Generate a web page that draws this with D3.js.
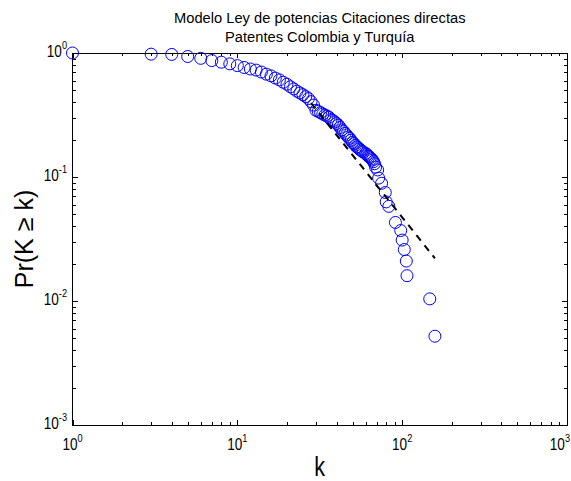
<!DOCTYPE html>
<html>
<head>
<meta charset="utf-8">
<script src="https://cdn.jsdelivr.net/npm/d3@7"></script>
<style>
  html, body { margin: 0; padding: 0; background: #fff; }
  svg { display: block; }
  text { font-family: "Liberation Sans", Arial, sans-serif; fill: #000; }
</style>
</head>
<body>
<svg id="chart" width="571" height="481"></svg>
<script>
// Empirical complementary CDF of direct citations (k) per patent
const degreeK = [1, 3, 4, 5, 6, 7, 8, 9, 10, 11, 12, 13, 14, 15, 16, 17, 18, 19, 20,
  21, 22, 23, 24, 25, 26, 27, 28, 29, 30, 31, 32, 33, 34, 35, 36, 37, 38, 39, 40,
  41, 42, 43, 44, 45, 46, 47, 48, 49, 50, 51, 52, 53, 54, 55, 56, 57, 58, 60, 61,
  62, 63, 64, 65, 66, 67, 68, 69, 71, 72, 75, 79, 80, 83, 91, 98, 100, 103, 106,
  107, 147, 158];
const probGE = [1.0, 0.979, 0.974, 0.937, 0.906, 0.869, 0.843, 0.817, 0.791, 0.764,
  0.743, 0.728, 0.702, 0.675, 0.654, 0.628, 0.607, 0.581, 0.560, 0.534, 0.513,
  0.492, 0.476, 0.461, 0.445, 0.429, 0.405, 0.380, 0.345, 0.338, 0.330, 0.322,
  0.316, 0.310, 0.303, 0.290, 0.285, 0.278, 0.270, 0.262, 0.251, 0.240, 0.234,
  0.225, 0.218, 0.210, 0.205, 0.198, 0.190, 0.186, 0.180, 0.175, 0.172, 0.168,
  0.165, 0.162, 0.159, 0.155, 0.152, 0.148, 0.146, 0.143, 0.140, 0.137, 0.133,
  0.128, 0.120, 0.114, 0.098, 0.089, 0.075, 0.063, 0.058, 0.043, 0.037, 0.031,
  0.026, 0.021, 0.016, 0.0104, 0.0052];

// Fitted power-law model (straight segment in log-log space)
const fitK = [28, 158];
const fitP = [0.395, 0.0221];

// Axis decades
const xDecades = [1, 10, 100, 1000];
const xDecadeExp = ["0", "1", "2", "3"];
const yDecades = [1, 0.1, 0.01, 0.001];
const yDecadeExp = ["0", "-1", "-2", "-3"];

const titleLines = ["Modelo Ley de potencias Citaciones directas", "Patentes Colombia y Turquía"];
const xLabel = "k";
const yLabel = "Pr(K \u2265 k)";

const svg = d3.select("#chart");
const W = 571;
const plotLeft = 72.5, plotRight = 567, plotTop = 53, plotBottom = 425;

const x = d3.scaleLog().domain([1, 1000]).range([plotLeft, plotRight]);
const y = d3.scaleLog().domain([0.001, 1]).range([plotBottom, plotTop]);

// Minor ticks within each decade
const xMinor = [];
xDecades.slice(0, -1).forEach(d => { for (let m = 2; m <= 9; m++) xMinor.push(d * m); });
const yMinor = [];
yDecades.slice(1).forEach(d => { for (let m = 2; m <= 9; m++) yMinor.push(d * m); });

const axes = svg.append("g").attr("stroke", "#000").attr("stroke-width", 1).attr("shape-rendering", "crispEdges");
axes.append("rect")
  .attr("x", plotLeft).attr("y", plotTop)
  .attr("width", plotRight - plotLeft).attr("height", plotBottom - plotTop)
  .attr("fill", "none");

const majorLen = 5, minorLen = 3;
function xt(v, len) {
  const px = Math.round(x(v)) + 0.5;
  axes.append("line").attr("x1", px).attr("x2", px).attr("y1", plotBottom).attr("y2", plotBottom - len);
  axes.append("line").attr("x1", px).attr("x2", px).attr("y1", plotTop).attr("y2", plotTop + len);
}
function yt(v, len) {
  const py = Math.round(y(v)) + 0.5;
  axes.append("line").attr("y1", py).attr("y2", py).attr("x1", plotLeft).attr("x2", plotLeft + len);
  axes.append("line").attr("y1", py).attr("y2", py).attr("x1", plotRight).attr("x2", plotRight - len);
}
xDecades.forEach(v => xt(v, majorLen));
xMinor.forEach(v => xt(v, minorLen));
yDecades.forEach(v => yt(v, majorLen));
yMinor.forEach(v => yt(v, minorLen));

// Tick labels: "10" with a superscript exponent, in a narrow face
const labelScale = 0.8;
function powerLabel(g, exp, anchor) {
  const t = g.append("text").attr("text-anchor", anchor).attr("font-size", 17);
  t.append("tspan").text("10");
  t.append("tspan").attr("font-size", 11.5).attr("dy", -8).text(exp);
  return t;
}
xDecades.forEach((v, i) => {
  const g = svg.append("g").attr("transform", `translate(${x(v)},450) scale(${labelScale},1)`);
  const t = powerLabel(g, xDecadeExp[i], "middle");
  // keep the last label inside the canvas
  const half = t.node().getComputedTextLength() * labelScale / 2;
  if (x(v) + half > W - 1) {
    g.attr("transform", `translate(${W - 1 - half},450) scale(${labelScale},1)`);
  }
});
yDecades.forEach((v, i) => {
  const g = svg.append("g").attr("transform", `translate(67,${y(v) + 4}) scale(${labelScale},1)`);
  powerLabel(g, yDecadeExp[i], "end");
});

// Data markers
svg.append("g")
  .selectAll("circle")
  .data(degreeK.map((k, i) => ({ k, p: probGE[i] })))
  .join("circle")
  .attr("cx", d => x(d.k))
  .attr("cy", d => y(d.p))
  .attr("r", 6)
  .attr("fill", "none")
  .attr("stroke", "#0000ff")
  .attr("stroke-width", 1);

// Power-law fit
svg.append("path")
  .datum(fitK.map((k, i) => [k, fitP[i]]))
  .attr("d", d3.line().x(d => x(d[0])).y(d => y(d[1])))
  .attr("fill", "none")
  .attr("stroke", "#000")
  .attr("stroke-width", 2)
  .attr("stroke-dasharray", "7,6");

// Title and axis labels
svg.append("g").selectAll("text").data(titleLines).join("text")
  .attr("x", (plotLeft + plotRight) / 2)
  .attr("y", (d, i) => 23 + i * 19)
  .attr("text-anchor", "middle")
  .attr("font-size", 14.7)
  .text(d => d);

svg.append("text")
  .attr("transform", `translate(33,${(plotTop + plotBottom) / 2}) rotate(-90)`)
  .attr("text-anchor", "middle")
  .attr("font-size", 25)
  .text(yLabel);

svg.append("text")
  .attr("transform", `translate(${(plotLeft + plotRight) / 2},476) scale(0.8,1)`)
  .attr("text-anchor", "middle")
  .attr("font-size", 27)
  .text(xLabel);
</script>
</body>
</html>
